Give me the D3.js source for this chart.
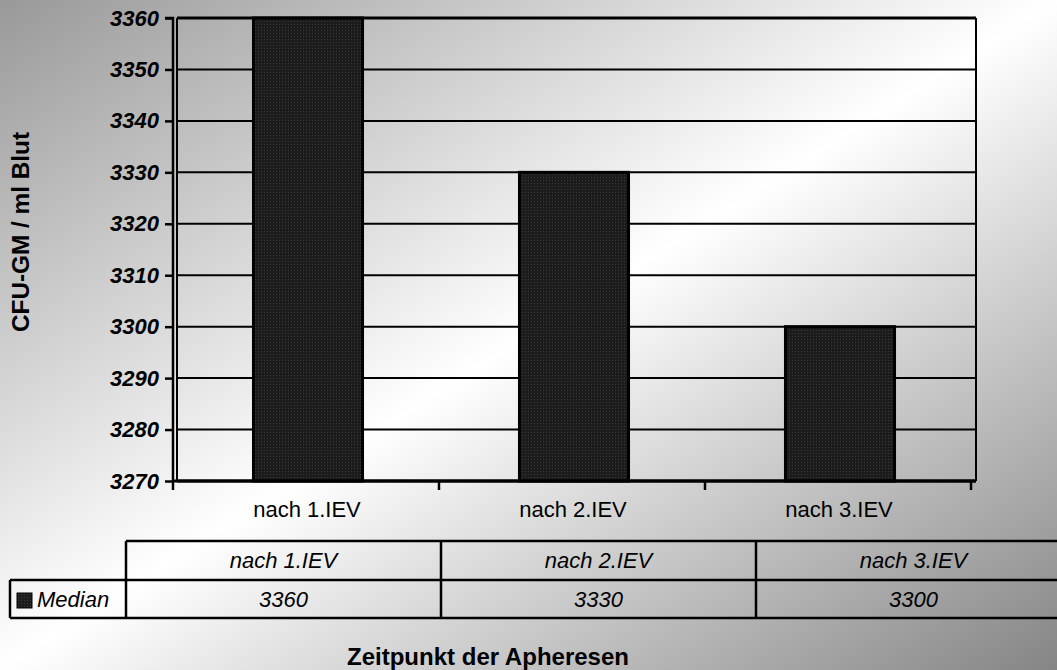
<!DOCTYPE html>
<html><head><meta charset="utf-8">
<script src="https://cdn.jsdelivr.net/npm/d3@7/dist/d3.min.js"></script>
<style>body{margin:0;padding:0;overflow:hidden}svg{display:block}text{font-family:"Liberation Sans",Arial,sans-serif}</style>
</head><body>
<script>
const categories = ["nach 1.IEV", "nach 2.IEV", "nach 3.IEV"];
const seriesName = "Median";
const values = [3360, 3330, 3300];
const yTicks = [3270, 3280, 3290, 3300, 3310, 3320, 3330, 3340, 3350, 3360];
const yTitle = "CFU-GM / ml Blut";
const xTitle = "Zeitpunkt der Apheresen";

const W = 1057, H = 670;
const svg = d3.select("body").append("svg").attr("width", W).attr("height", H);
const defs = svg.append("defs");
const g = defs.append("linearGradient").attr("id", "bg").attr("x1", 0).attr("y1", 0).attr("x2", 1).attr("y2", 1);
g.append("stop").attr("offset", 0).attr("stop-color", "#999999");
g.append("stop").attr("offset", 0.5).attr("stop-color", "#ffffff");
g.append("stop").attr("offset", 1).attr("stop-color", "#858585");
const pat = defs.append("pattern").attr("id", "dots").attr("width", 3).attr("height", 3).attr("patternUnits", "userSpaceOnUse");
pat.append("rect").attr("width", 3).attr("height", 3).attr("fill", "#1c1c1c");
pat.append("rect").attr("width", 1).attr("height", 1).attr("fill", "#3a3a3a");

svg.append("rect").attr("width", W).attr("height", H).attr("fill", "url(#bg)");

const axisX = 173, plotL = 177, plotR = 976, plotT = 18, plotB = 481;
const y = d3.scaleLinear().domain([3270, 3360]).range([plotB, plotT]);
const x = d3.scaleBand().domain(categories).range([axisX, 971]).padding(0);

// gridlines
svg.append("g").selectAll("line").data(yTicks).join("line")
  .attr("x1", plotL).attr("x2", plotR).attr("y1", d => y(d)).attr("y2", d => y(d))
  .attr("stroke", "#000").attr("stroke-width", d => (d === 3360 || d === 3270) ? 3 : 2);
svg.append("line").attr("x1", plotL).attr("x2", plotL).attr("y1", plotT).attr("y2", plotB).attr("stroke", "#000").attr("stroke-width", 2);
svg.append("line").attr("x1", plotR).attr("x2", plotR).attr("y1", plotT).attr("y2", plotB).attr("stroke", "#000").attr("stroke-width", 2);

// bars
const bw = x.bandwidth() * 0.41;
svg.append("g").selectAll("rect").data(values).join("rect")
  .attr("x", (d, i) => x(categories[i]) + x.bandwidth() / 2 - bw / 2 + 2)
  .attr("width", bw)
  .attr("y", d => y(d))
  .attr("height", d => y(3270) - y(d))
  .attr("fill", "url(#dots)").attr("stroke", "#000").attr("stroke-width", 3);

// y axis
const ya = svg.append("g").attr("transform", `translate(${axisX},0)`)
  .call(d3.axisLeft(y).tickValues(yTicks).tickSize(8).tickPadding(6).tickFormat(d3.format("d")));
ya.select(".domain").attr("stroke", "#000").attr("stroke-width", 2.5).attr("d", `M-8,${plotT}H0V${plotB}`);
ya.selectAll(".tick line").attr("stroke", "#000").attr("stroke-width", 2.5);
ya.selectAll(".tick text").attr("font-size", 22).attr("font-weight", "bold").attr("font-style", "italic")
  .attr("fill", "#000").attr("font-family", "Liberation Sans, Arial, sans-serif");

// x axis
const bounds = categories.map(c => x(c)).concat([x(categories[categories.length - 1]) + x.bandwidth()]);
svg.append("line").attr("x1", axisX).attr("x2", plotR).attr("y1", plotB).attr("y2", plotB).attr("stroke", "#000").attr("stroke-width", 3);
svg.append("g").selectAll("line").data(bounds).join("line")
  .attr("x1", d => d).attr("x2", d => d).attr("y1", plotB).attr("y2", plotB + 9)
  .attr("stroke", "#000").attr("stroke-width", 2.5);
svg.append("g").selectAll("text").data(categories).join("text")
  .attr("x", d => x(d) + x.bandwidth() / 2 + 1).attr("y", 517).attr("text-anchor", "middle")
  .attr("font-size", 22).text(d => d);

// data table
const tT = 541, tM = 580, tB = 618, tL = 10, colStart = 126, colW = 315;
const cx = d3.scaleLinear().domain([0, categories.length]).range([colStart, colStart + colW * categories.length]);
const tbl = svg.append("g");
tbl.append("line").attr("x1", colStart).attr("x2", W + 5).attr("y1", tT).attr("y2", tT).attr("stroke", "#000").attr("stroke-width", 2.5);
tbl.append("line").attr("x1", tL).attr("x2", W + 5).attr("y1", tM).attr("y2", tM).attr("stroke", "#000").attr("stroke-width", 2.5);
tbl.append("line").attr("x1", tL).attr("x2", W + 5).attr("y1", tB).attr("y2", tB).attr("stroke", "#000").attr("stroke-width", 2.5);
tbl.append("line").attr("x1", tL).attr("x2", tL).attr("y1", tM).attr("y2", tB).attr("stroke", "#000").attr("stroke-width", 2.5);
tbl.selectAll(".vl").data(d3.range(categories.length + 1)).join("line").attr("class", "vl")
  .attr("x1", d => cx(d)).attr("x2", d => cx(d)).attr("y1", tT).attr("y2", tB).attr("stroke", "#000").attr("stroke-width", 2.5);
tbl.selectAll(".hd").data(categories).join("text").attr("class", "hd")
  .attr("x", (d, i) => cx(i + 0.5)).attr("y", 568).attr("text-anchor", "middle")
  .attr("font-size", 22).attr("font-style", "italic").text(d => d);
tbl.selectAll(".vv").data(values).join("text").attr("class", "vv")
  .attr("x", (d, i) => cx(i + 0.5)).attr("y", 607).attr("text-anchor", "middle")
  .attr("font-size", 22).attr("font-style", "italic").text(d => d);
tbl.append("rect").attr("x", 17).attr("y", 593).attr("width", 15).attr("height", 15)
  .attr("fill", "url(#dots)").attr("stroke", "#000").attr("stroke-width", 1);
tbl.append("text").attr("x", 37).attr("y", 607).attr("font-size", 22).attr("font-style", "italic").text(seriesName);

// titles
svg.append("text").attr("transform", "translate(29,232) rotate(-90)").attr("text-anchor", "middle")
  .attr("font-size", 23).attr("font-weight", "bold")
  .attr("textLength", 200).attr("lengthAdjust", "spacingAndGlyphs").text(yTitle);
svg.append("text").attr("x", 488).attr("y", 665).attr("text-anchor", "middle")
  .attr("font-size", 23).attr("font-weight", "bold")
  .attr("textLength", 282).attr("lengthAdjust", "spacingAndGlyphs").text(xTitle);
</script>
</body></html>
